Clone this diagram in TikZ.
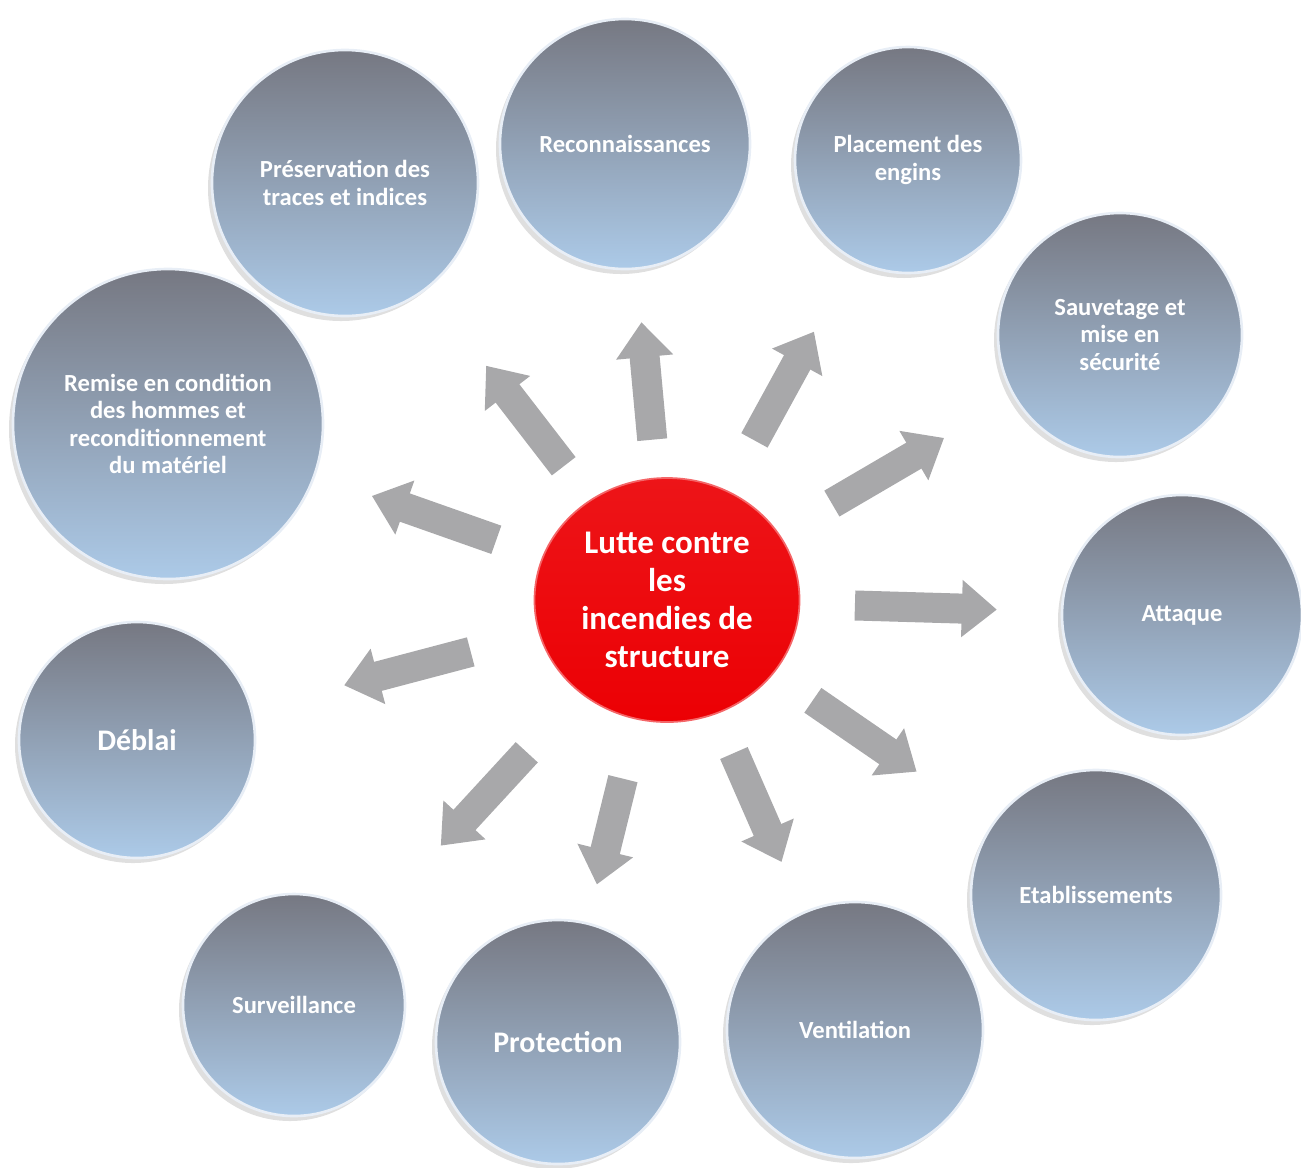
\documentclass[tikz,border=0pt]{standalone}
\usepackage{fontspec}
\setmainfont{Carlito}
\usetikzlibrary{calc,arrows.meta,shapes.geometric,shadows}

\definecolor{bulletop}{RGB}{118,120,130}
\definecolor{bullebas}{RGB}{172,202,232}
\definecolor{bord}{RGB}{232,238,246}
\definecolor{rouge}{RGB}{236,0,4}
\definecolor{gris}{RGB}{168,168,170}

\tikzset{
  bulle/.style={circle, inner sep=0pt, align=center, text=white,
    font=\fontsize{14}{15.6}\selectfont\bfseries,
    top color=bulletop, bottom color=bullebas, draw=bord, line width=1.5pt,
    drop shadow={opacity=0.25, shadow xshift=-0.08cm, shadow yshift=-0.1cm}},
  fleche/.style={draw=gris, line width=0.6cm,
    -{Triangle[width=1.1cm, length=0.7cm]}}
}

\begin{document}
\begin{tikzpicture}
        \useasboundingbox (0,0) rectangle (26.02,-23.34);

        \node[ellipse, minimum width=5.3cm, minimum height=4.88cm, inner sep=0pt,
              top color=rouge!92!white, bottom color=rouge, draw=rouge!60!white, line width=1pt,
              align=center, text=white, font=\fontsize{18.8}{21.5}\selectfont\bfseries]
              at (13.34, -12.00) (lutte) {Lutte contre\\les\\incendies de\\structure};

        \node[bulle, minimum size=5.00cm] at (12.50, -2.88) (rec) {Reconnaissances};
        \node[bulle, minimum size=5.32cm] at (6.90, -3.66) (preserv) {Préservation des\\traces et indices};
        \node[bulle, minimum size=4.52cm] at (18.16, -3.20) (placement) {Placement des\\engins};
        \node[bulle, minimum size=4.88cm] at (22.40, -6.70) (sauvetage) {Sauvetage et\\mise en\\sécurité};
        \node[bulle, minimum size=6.20cm] at (3.36, -8.48) (remise) {Remise en condition\\des hommes  et\\reconditionnement\\du matériel};
        \node[bulle, minimum size=4.80cm] at (23.64, -12.30) (attaque) {Attaque};
        \node[bulle, minimum size=4.72cm, font=\fontsize{17}{20}\selectfont\bfseries] at (2.74, -14.80) (deblai) {Déblai};
        \node[bulle, minimum size=5.00cm] at (21.92, -17.90) (etabl) {Etablissements};
        \node[bulle, minimum size=4.44cm] at (5.88, -20.10) (surv) {Surveillance};
        \node[bulle, minimum size=4.88cm, font=\fontsize{17}{20}\selectfont\bfseries] at (11.16, -20.84) (protect) {Protection};
        \node[bulle, minimum size=5.12cm] at (17.10, -20.60) (ventil) {Ventilation};

        \draw[fleche] ($(lutte)!3.22cm!(rec)$) -- ($(lutte)!5.58cm!(rec)$);
        \draw[fleche] ($(lutte)!3.64cm!(placement)$) -- ($(lutte)!6.12cm!(placement)$);
        \draw[fleche] ($(lutte)!3.82cm!(sauvetage)$) -- ($(lutte)!6.42cm!(sauvetage)$);
        \draw[fleche] ($(lutte)!3.76cm!(attaque)$) -- ($(lutte)!6.60cm!(attaque)$);
        \draw[fleche] ($(lutte)!3.54cm!(etabl)$) -- ($(lutte)!6.06cm!(etabl)$);
        \draw[fleche] ($(lutte)!3.34cm!(ventil)$) -- ($(lutte)!5.72cm!(ventil)$);
        \draw[fleche] ($(lutte)!3.68cm!(protect)$) -- ($(lutte)!5.86cm!(protect)$);
        \draw[fleche] ($(lutte)!4.14cm!(surv)$) -- ($(lutte)!6.68cm!(surv)$);
        \draw[fleche] ($(lutte)!4.06cm!(deblai)$) -- ($(lutte)!6.68cm!(deblai)$);
        \draw[fleche] ($(lutte)!3.62cm!(remise)$) -- ($(lutte)!6.26cm!(remise)$);
        \draw[fleche] ($(lutte)!3.38cm!(preserv)$) -- ($(lutte)!5.92cm!(preserv)$);

        \end{tikzpicture}
\end{document}
